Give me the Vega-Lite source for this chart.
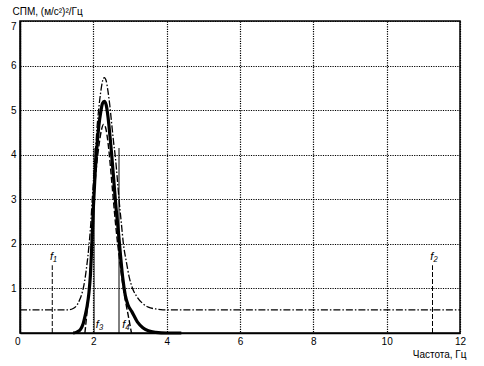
{
  "$schema": "https://vega.github.io/schema/vega-lite/v6.json",
  "width": 440,
  "height": 312,
  "autosize": "none",
  "padding": {"left": 20, "top": 21, "right": 24, "bottom": 33},
  "background": "white",
  "config": {
    "view": {"stroke": "black", "strokeWidth": 1.5},
    "font": "Liberation Sans",
    "axis": {
      "labelFont": "Liberation Sans",
      "labelFontSize": 10,
      "labelColor": "black",
      "titleFont": "Liberation Sans",
      "titleFontSize": 10,
      "titleFontWeight": "normal",
      "titleColor": "black",
      "domainColor": "black",
      "domainWidth": 1.5,
      "ticks": false,
      "gridColor": "black",
      "gridDash": [1.2, 1.2],
      "gridWidth": 1.2,
      "gridOpacity": 1
    }
  },
  "datasets": {
    "solid": [
      {"f": 1.45, "s": 0}, {"f": 1.55, "s": 0.02}, {"f": 1.65, "s": 0.08}, {"f": 1.72, "s": 0.2},
      {"f": 1.78, "s": 0.4}, {"f": 1.83, "s": 0.6}, {"f": 1.88, "s": 0.9}, {"f": 1.92, "s": 1.3},
      {"f": 1.96, "s": 2.0}, {"f": 2.0, "s": 2.8}, {"f": 2.05, "s": 3.6}, {"f": 2.1, "s": 4.2},
      {"f": 2.15, "s": 4.65}, {"f": 2.2, "s": 4.95}, {"f": 2.25, "s": 5.15}, {"f": 2.3, "s": 5.2},
      {"f": 2.35, "s": 5.12}, {"f": 2.4, "s": 4.85}, {"f": 2.45, "s": 4.45}, {"f": 2.5, "s": 4.0},
      {"f": 2.56, "s": 3.4}, {"f": 2.62, "s": 2.8}, {"f": 2.68, "s": 2.3}, {"f": 2.74, "s": 1.75},
      {"f": 2.8, "s": 1.25}, {"f": 2.87, "s": 0.85}, {"f": 2.95, "s": 0.62}, {"f": 3.05, "s": 0.48},
      {"f": 3.2, "s": 0.25}, {"f": 3.35, "s": 0.12}, {"f": 3.5, "s": 0.05}, {"f": 3.7, "s": 0.015},
      {"f": 4.0, "s": 0}, {"f": 4.4, "s": 0}
    ],
    "dashdot": [
      {"f": 0, "s": 0.52}, {"f": 1.3, "s": 0.52}, {"f": 1.45, "s": 0.55}, {"f": 1.55, "s": 0.62},
      {"f": 1.63, "s": 0.75}, {"f": 1.7, "s": 0.92}, {"f": 1.76, "s": 1.15}, {"f": 1.82, "s": 1.5},
      {"f": 1.88, "s": 1.95}, {"f": 1.93, "s": 2.45}, {"f": 1.97, "s": 3.0}, {"f": 2.02, "s": 3.6},
      {"f": 2.06, "s": 4.1}, {"f": 2.1, "s": 4.6}, {"f": 2.15, "s": 5.05}, {"f": 2.2, "s": 5.4},
      {"f": 2.25, "s": 5.65}, {"f": 2.3, "s": 5.73}, {"f": 2.35, "s": 5.66}, {"f": 2.4, "s": 5.42},
      {"f": 2.45, "s": 5.1}, {"f": 2.5, "s": 4.7}, {"f": 2.55, "s": 4.3}, {"f": 2.6, "s": 3.95},
      {"f": 2.65, "s": 3.5}, {"f": 2.7, "s": 3.0}, {"f": 2.76, "s": 2.5}, {"f": 2.82, "s": 2.0},
      {"f": 2.9, "s": 1.6}, {"f": 2.98, "s": 1.25}, {"f": 3.07, "s": 1.0}, {"f": 3.2, "s": 0.8},
      {"f": 3.35, "s": 0.66}, {"f": 3.5, "s": 0.58}, {"f": 3.7, "s": 0.54}, {"f": 3.9, "s": 0.52},
      {"f": 12, "s": 0.52}
    ],
    "dashed": [
      {"f": 1.77, "s": 0}, {"f": 1.82, "s": 0.4}, {"f": 1.86, "s": 0.75}, {"f": 1.89, "s": 1.0},
      {"f": 1.92, "s": 1.45}, {"f": 1.95, "s": 2.0}, {"f": 1.99, "s": 2.65}, {"f": 2.04, "s": 3.3},
      {"f": 2.1, "s": 3.85}, {"f": 2.16, "s": 4.25}, {"f": 2.22, "s": 4.55}, {"f": 2.28, "s": 4.68},
      {"f": 2.33, "s": 4.62}, {"f": 2.38, "s": 4.4}, {"f": 2.43, "s": 4.05}, {"f": 2.48, "s": 3.6},
      {"f": 2.54, "s": 3.05}, {"f": 2.6, "s": 2.5}, {"f": 2.65, "s": 2.1}, {"f": 2.7, "s": 1.75},
      {"f": 2.76, "s": 1.35}, {"f": 2.82, "s": 1.0}, {"f": 2.88, "s": 0.7}, {"f": 2.95, "s": 0.4},
      {"f": 3.04, "s": 0}
    ],
    "outer": [
      {"f": 0.88, "lo": 0, "hi": 1.52},
      {"f": 11.25, "lo": 0, "hi": 1.52}
    ],
    "inner": [
      {"f": 2.02, "lo": 0, "hi": 4.15},
      {"f": 2.7, "lo": 0, "hi": 4.15}
    ],
    "labels": [
      {"f": 0.91, "s": 1.7, "t": "f₁"},
      {"f": 11.29, "s": 1.7, "t": "f₂"},
      {"f": 2.17, "s": 0.17, "t": "f₃"},
      {"f": 2.89, "s": 0.17, "t": "f₄"}
    ]
  },
  "encoding": {
    "x": {
      "field": "f", "type": "quantitative",
      "scale": {"domain": [0, 12], "nice": false, "zero": false},
      "axis": {
        "values": [0, 2, 4, 6, 8, 10, 12],
        "grid": true,
        "labelPadding": 3,
        "labelAlign": {"condition": {"test": "datum.value == 0", "value": "right"}, "value": "center"},
        "title": "Частота, Гц",
        "titleAnchor": "end",
        "titleAlign": "right",
        "titleX": 446,
        "titleY": 24,
        "titleBaseline": "alphabetic"
      }
    },
    "y": {
      "field": "s", "type": "quantitative",
      "scale": {"domain": [0, 7], "nice": false},
      "axis": {
        "values": [0, 1, 2, 3, 4, 5, 6, 7],
        "grid": true,
        "labelPadding": 4,
        "labelBaseline": {"condition": {"test": "datum.value == 7", "value": "top"}, "value": "middle"},
        "labelExpr": "datum.value == 0 ? '' : datum.label",
        "title": "СПМ, (м/с²)²/Гц",
        "titleAngle": 0,
        "titleAlign": "left",
        "titleBaseline": "alphabetic",
        "titleX": -8,
        "titleY": -7
      }
    }
  },
  "layer": [
    {
      "data": {"name": "dashdot"},
      "mark": {"type": "line", "color": "black", "strokeWidth": 1.3, "strokeDash": [7, 2, 1.5, 2], "interpolate": "monotone"}
    },
    {
      "data": {"name": "dashed"},
      "mark": {"type": "line", "color": "black", "strokeWidth": 1.4, "strokeDash": [6, 2.5], "interpolate": "monotone"}
    },
    {
      "data": {"name": "solid"},
      "mark": {"type": "line", "color": "black", "strokeWidth": 3.2, "interpolate": "monotone"}
    },
    {
      "data": {"name": "outer"},
      "mark": {"type": "rule", "color": "black", "strokeWidth": 1, "strokeDash": [5, 2]},
      "encoding": {"y": {"field": "lo", "type": "quantitative"}, "y2": {"field": "hi"}}
    },
    {
      "data": {"name": "inner"},
      "mark": {"type": "rule", "color": "black", "strokeWidth": 1},
      "encoding": {"y": {"field": "lo", "type": "quantitative"}, "y2": {"field": "hi"}}
    },
    {
      "data": {"name": "labels"},
      "mark": {"type": "text", "font": "Liberation Sans", "fontSize": 11, "fontStyle": "italic", "color": "black", "baseline": "middle", "align": "center"},
      "encoding": {"text": {"field": "t"}}
    }
  ]
}
